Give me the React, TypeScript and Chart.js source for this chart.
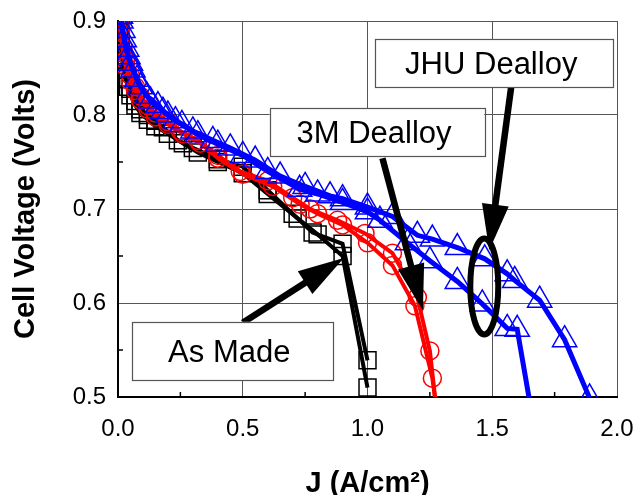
import React, { useEffect, useRef } from "react";
import { Chart, registerables } from "chart.js";

Chart.register(...registerables);

// ---- Data (J in A/cm², cell voltage in V) ----
const AS_MADE_1_J = [0.005, 0.01, 0.02, 0.03, 0.04, 0.05, 0.07, 0.09, 0.12, 0.15, 0.18, 0.24, 0.3, 0.4, 0.5, 0.6, 0.7, 0.78, 0.9, 1.0];
const AS_MADE_1_V = [0.905, 0.885, 0.862, 0.848, 0.838, 0.828, 0.815, 0.806, 0.8, 0.794, 0.787, 0.773, 0.765, 0.753, 0.745, 0.72, 0.695, 0.675, 0.663, 0.539];
const AS_MADE_2_J = [0.005, 0.01, 0.02, 0.03, 0.04, 0.05, 0.07, 0.09, 0.12, 0.15, 0.2, 0.26, 0.32, 0.4, 0.5, 0.6, 0.72, 0.8, 0.9, 1.0];
const AS_MADE_2_V = [0.895, 0.875, 0.853, 0.84, 0.83, 0.821, 0.81, 0.802, 0.795, 0.788, 0.78, 0.77, 0.76, 0.75, 0.738, 0.716, 0.69, 0.673, 0.65, 0.51];

const M3_1_J = [0.005, 0.01, 0.02, 0.03, 0.05, 0.07, 0.09, 0.12, 0.15, 0.2, 0.25, 0.32, 0.4, 0.49, 0.6, 0.7, 0.77, 0.88, 0.99, 1.1, 1.2, 1.25, 1.275];
const M3_1_V = [0.915, 0.895, 0.872, 0.858, 0.842, 0.83, 0.82, 0.81, 0.802, 0.793, 0.783, 0.773, 0.757, 0.74, 0.73, 0.712, 0.7, 0.688, 0.674, 0.653, 0.606, 0.549, 0.49];
const M3_2_J = [0.005, 0.01, 0.02, 0.03, 0.05, 0.07, 0.09, 0.12, 0.15, 0.2, 0.26, 0.33, 0.4, 0.5, 0.62, 0.73, 0.8, 0.9, 1.0, 1.1, 1.19, 1.26, 1.285];
const M3_2_V = [0.905, 0.888, 0.866, 0.852, 0.836, 0.826, 0.816, 0.806, 0.798, 0.79, 0.78, 0.77, 0.754, 0.737, 0.724, 0.705, 0.695, 0.683, 0.664, 0.64, 0.597, 0.52, 0.47];

const JHU_1_J = [0.005, 0.01, 0.02, 0.035, 0.05, 0.076, 0.116, 0.16, 0.2, 0.256, 0.32, 0.4, 0.5, 0.6, 0.728, 0.8, 0.9, 1.0, 1.05, 1.16, 1.25, 1.36, 1.46, 1.56, 1.6, 1.66];
const JHU_1_V = [0.92, 0.905, 0.89, 0.87, 0.855, 0.838, 0.82, 0.81, 0.8, 0.79, 0.779, 0.769, 0.757, 0.74, 0.721, 0.716, 0.707, 0.697, 0.688, 0.664, 0.645, 0.623, 0.599, 0.573, 0.572, 0.48];
const JHU_2_J = [0.005, 0.012, 0.025, 0.04, 0.06, 0.09, 0.13, 0.18, 0.23, 0.3, 0.38, 0.45, 0.55, 0.65, 0.75, 0.85, 0.9, 1.0, 1.1, 1.2, 1.26, 1.36, 1.47, 1.56, 1.59, 1.69, 1.79, 1.89];
const JHU_2_V = [0.925, 0.9, 0.88, 0.862, 0.848, 0.83, 0.815, 0.804, 0.794, 0.783, 0.773, 0.765, 0.752, 0.735, 0.724, 0.714, 0.711, 0.702, 0.692, 0.672, 0.668, 0.659, 0.647, 0.631, 0.624, 0.603, 0.561, 0.499];

const X_MIN = 0, X_MAX = 2.0, X_STEP = 0.5;
const Y_MIN = 0.5, Y_MAX = 0.9, Y_STEP = 0.1;
const X_MINOR_TICKS = [0.25, 0.75, 1.25, 1.75];
const Y_MINOR_TICKS = [0.55, 0.65, 0.75, 0.85];

const X_TITLE = "J (A/cm²)";
const Y_TITLE = "Cell Voltage (Volts)";

// Annotations (data coordinates)
const LABEL_TEXTS = ["JHU Dealloy", "3M Dealloy", "As Made"];
const LABEL_X0 = [1.032, 0.608, 0.056];
const LABEL_X1 = [1.984, 1.468, 0.86];
const LABEL_Y0 = [0.8805, 0.807, 0.58];
const LABEL_Y1 = [0.8294, 0.756, 0.518];

const ARROW_FROM_X = [0.5, 1.06, 1.576];
const ARROW_FROM_Y = [0.579, 0.754, 0.83];
const ARROW_TO_X = [0.905, 1.222, 1.488];
const ARROW_TO_Y = [0.648, 0.592, 0.656];

const ELLIPSE_CX = 1.468, ELLIPSE_CY = 0.6176, ELLIPSE_RX = 0.056, ELLIPSE_RY = 0.051;

const FONT = "'Liberation Sans', Arial, Helvetica, sans-serif";

const pts = (xs: number[], ys: number[]) => xs.map((x, i) => ({ x, y: ys[i] }));

const annotationPlugin = {
  id: "annotations",
  afterDatasetsDraw(chart: any) {
    const { ctx, scales, chartArea } = chart;
    const xs = scales.x, ys = scales.y;
    ctx.save();

    // inward minor ticks
    ctx.strokeStyle = "#000";
    ctx.lineWidth = 1.5;
    X_MINOR_TICKS.forEach((v) => {
      const px = xs.getPixelForValue(v);
      ctx.beginPath();
      ctx.moveTo(px, chartArea.bottom);
      ctx.lineTo(px, chartArea.bottom - 5);
      ctx.stroke();
    });
    Y_MINOR_TICKS.forEach((v) => {
      const py = ys.getPixelForValue(v);
      ctx.beginPath();
      ctx.moveTo(chartArea.left, py);
      ctx.lineTo(chartArea.left + 5, py);
      ctx.stroke();
    });

    // ellipse
    const ecx = xs.getPixelForValue(ELLIPSE_CX);
    const ecy = ys.getPixelForValue(ELLIPSE_CY);
    const erx = Math.abs(xs.getPixelForValue(ELLIPSE_CX + ELLIPSE_RX) - ecx);
    const ery = Math.abs(ys.getPixelForValue(ELLIPSE_CY + ELLIPSE_RY) - ecy);
    ctx.beginPath();
    ctx.ellipse(ecx, ecy, erx, ery, 0, 0, Math.PI * 2);
    ctx.lineWidth = 6;
    ctx.strokeStyle = "#000";
    ctx.stroke();

    // arrows
    ARROW_FROM_X.forEach((_, i) => {
      const x0 = xs.getPixelForValue(ARROW_FROM_X[i]);
      const y0 = ys.getPixelForValue(ARROW_FROM_Y[i]);
      const x1 = xs.getPixelForValue(ARROW_TO_X[i]);
      const y1 = ys.getPixelForValue(ARROW_TO_Y[i]);
      const dx = x1 - x0, dy = y1 - y0;
      const len = Math.hypot(dx, dy);
      const ux = dx / len, uy = dy / len;
      const headL = 46, headW = 27;
      const bx = x1 - ux * headL, by = y1 - uy * headL;
      ctx.beginPath();
      ctx.moveTo(x0, y0);
      ctx.lineTo(bx + ux * 2, by + uy * 2);
      ctx.lineWidth = 6.5;
      ctx.lineCap = "butt";
      ctx.strokeStyle = "#000";
      ctx.stroke();
      ctx.beginPath();
      ctx.moveTo(x1, y1);
      ctx.lineTo(bx - uy * headW / 2, by + ux * headW / 2);
      ctx.lineTo(bx + uy * headW / 2, by - ux * headW / 2);
      ctx.closePath();
      ctx.fillStyle = "#000";
      ctx.fill();
    });

    // label boxes
    LABEL_TEXTS.forEach((t, i) => {
      const l = xs.getPixelForValue(LABEL_X0[i]);
      const r = xs.getPixelForValue(LABEL_X1[i]);
      const tp = ys.getPixelForValue(LABEL_Y0[i]);
      const bt = ys.getPixelForValue(LABEL_Y1[i]);
      ctx.fillStyle = "#fff";
      ctx.fillRect(l, tp, r - l, bt - tp);
      ctx.lineWidth = 1.2;
      ctx.strokeStyle = "#555";
      ctx.strokeRect(Math.round(l) + 0.5, Math.round(tp) + 0.5, Math.round(r - l), Math.round(bt - tp));
      ctx.fillStyle = "#000";
      ctx.font = `31px ${FONT}`;
      ctx.textAlign = "center";
      ctx.textBaseline = "alphabetic";
      ctx.fillText(t, (l + r) / 2 - 3, (tp + bt) / 2 + 11);
    });

    ctx.restore();
  },
};

const lineSet = (label: string, data: any[], color: string, width: number, style: string, radius: number) => ({
  label,
  data,
  borderColor: color,
  borderWidth: width,
  pointStyle: style,
  pointRadius: radius,
  pointBorderWidth: 1.5,
  pointBorderColor: color,
  pointBackgroundColor: "rgba(0,0,0,0)",
  showLine: true,
  tension: 0,
  fill: false,
  clip: 0,
});

export default function App() {
  const ref = useRef<HTMLCanvasElement | null>(null);

  useEffect(() => {
    document.body.style.margin = "0";
    const canvas = ref.current;
    if (!canvas) return;
    const chart = new Chart(canvas, {
      type: "line",
      data: {
        datasets: [
          lineSet("JHU Dealloy", pts(JHU_1_J, JHU_1_V), "#0000ff", 5, "triangle", 14),
          lineSet("JHU Dealloy", pts(JHU_2_J, JHU_2_V), "#0000ff", 5, "triangle", 14),
          lineSet("3M Dealloy", pts(M3_1_J, M3_1_V), "#ff0000", 4, "circle", 9),
          lineSet("3M Dealloy", pts(M3_2_J, M3_2_V), "#ff0000", 4, "circle", 9),
          lineSet("As Made", pts(AS_MADE_1_J, AS_MADE_1_V), "#000000", 4, "rect", 12),
          lineSet("As Made", pts(AS_MADE_2_J, AS_MADE_2_V), "#000000", 4, "rect", 12),
        ] as any,
      },
      options: {
        responsive: false,
        animation: false,
        events: [],
        layout: { padding: { top: 21, right: 17, left: 0, bottom: 0 } },
        plugins: { legend: { display: false }, tooltip: { enabled: false } },
        scales: {
          x: {
            type: "linear",
            min: X_MIN,
            max: X_MAX,
            ticks: {
              stepSize: X_STEP,
              autoSkip: false,
              maxRotation: 0,
              padding: 18,
              color: "#000",
              font: { family: FONT, size: 24 },
              callback: (v: any) => Number(v).toFixed(1),
            },
            grid: { color: "#555", lineWidth: 1, drawTicks: false },
            border: { color: "#000", width: 2 },
            title: {
              display: true,
              text: X_TITLE,
              color: "#000",
              font: { family: FONT, size: 29, weight: "bold" },
              padding: { top: 0, bottom: -6 },
            },
            afterFit: (s: any) => {
              s.height = 98;
              s.paddingLeft = 0;
              s.paddingRight = 0;
            },
          },
          y: {
            type: "linear",
            min: Y_MIN,
            max: Y_MAX,
            ticks: {
              stepSize: Y_STEP,
              padding: 12,
              color: "#000",
              font: { family: FONT, size: 24 },
              callback: (v: any) => Number(v).toFixed(1),
            },
            grid: { color: "#555", lineWidth: 1, drawTicks: false },
            border: { color: "#000", width: 2 },
            title: {
              display: true,
              text: Y_TITLE,
              color: "#000",
              font: { family: FONT, size: 29, weight: "bold" },
              padding: { top: 9, bottom: 0 },
            },
            afterFit: (s: any) => {
              s.width = 118;
              s.paddingTop = 0;
              s.paddingBottom = 0;
            },
          },
        },
      } as any,
      plugins: [annotationPlugin],
    });
    return () => chart.destroy();
  }, []);

  return (
    <div style={{ width: 634, height: 495 }}>
      <canvas ref={ref} width={634} height={495} style={{ display: "block" }} />
    </div>
  );
}
